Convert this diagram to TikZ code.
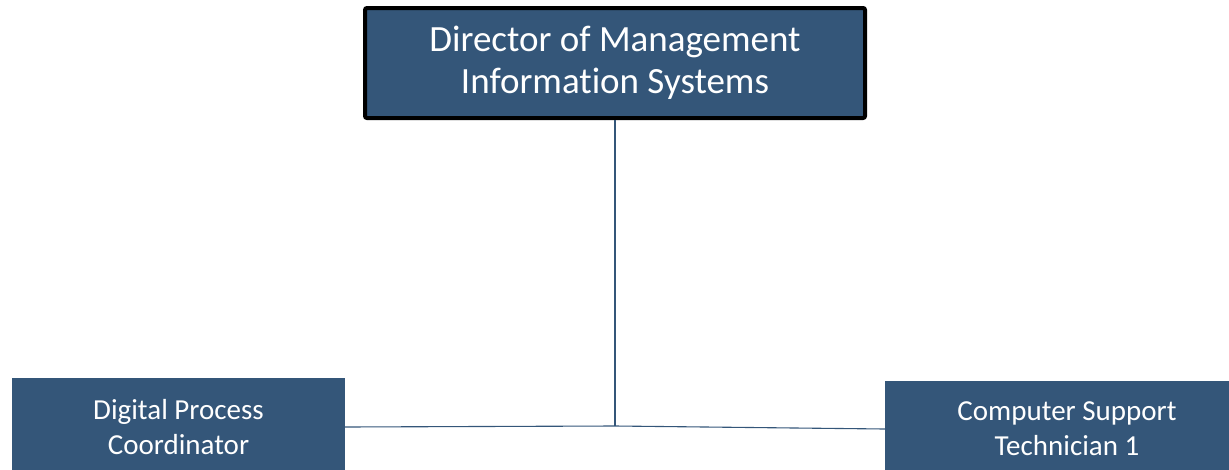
\documentclass[tikz,border=0pt]{standalone}
\usepackage{fontspec}
\setmainfont{Carlito}[Ligatures=NoCommon]
\usepackage{tikz}
\usetikzlibrary{calc}
\definecolor{boxblue}{RGB}{52,86,121}

\begin{document}
\begin{tikzpicture}[
    x=1pt, y=-1pt,
    box/.style={fill=boxblue, text=white, align=center, inner sep=0pt, font=\fontsize{29}{35}\selectfont},
    head box/.style={box, draw=black, line width=4pt, rounded corners=2pt, font=\fontsize{37}{42}\selectfont},
    org line/.style={draw=boxblue, line width=1.1pt}
    ]

    % page frame
    \useasboundingbox (0,0) rectangle (1229,469);
    \clip (0,0) rectangle (1229,469);

    % boxes
    \node[head box, minimum width=500pt, minimum height=110pt] (dir) at (615,63) {Director of Management\\Information Systems};
    \node[box, minimum width=333pt, minimum height=98pt] (dpc) at (178.5,427) {Digital Process\\Coordinator};
    \node[box, minimum width=364pt, minimum height=96pt] (cst) at (1067,429) {Computer Support\\Technician 1};

    % junction
    \coordinate (j) at (615,426);

    % lines
    \draw[org line] (dir.south) -- (j);
    \draw[org line] (dpc.east) -- (j) -- (cst.west);
\end{tikzpicture}
\end{document}
